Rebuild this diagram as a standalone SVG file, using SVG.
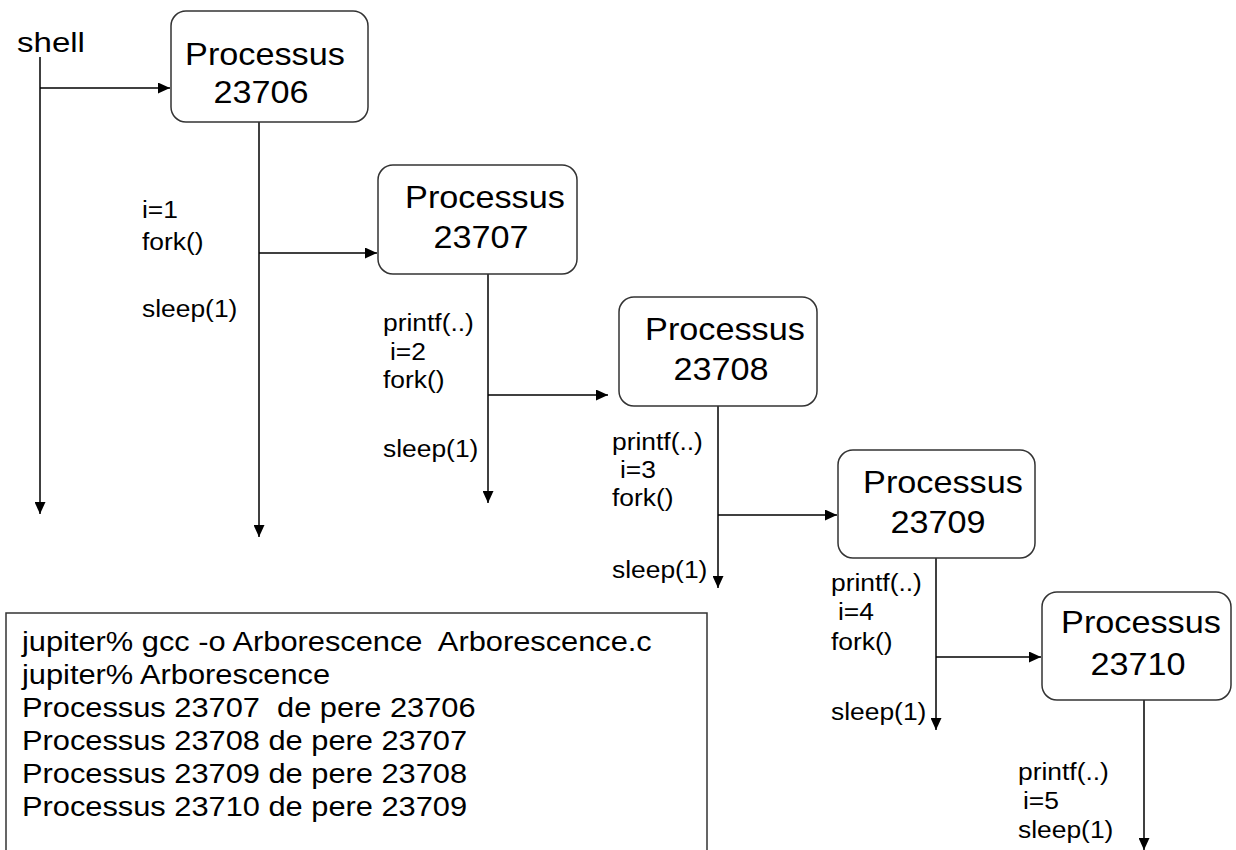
<svg xmlns="http://www.w3.org/2000/svg" width="1236" height="850" viewBox="0 0 1236 850">
<style>
  text { font-family: "Liberation Sans", Arial, sans-serif; fill: #000; }
  .bt { font-size: 32px; text-anchor: middle; }
  .lb { font-size: 24px; }
  .tt { font-size: 28px; }
  .sh { font-size: 28px; }
  .box { fill: #fff; stroke: #333; stroke-width: 1.5; }
  .ln { stroke: #000; stroke-width: 1.5; fill: none; }
</style>
<defs>
  <marker id="ah" markerUnits="userSpaceOnUse" markerWidth="13" markerHeight="11" refX="12" refY="5.5" orient="auto">
    <path d="M0,0 L12,5.5 L0,11 z" fill="#000"/>
  </marker>
</defs>
<rect x="0" y="0" width="1236" height="850" fill="#fff"/>

<g id="connectors">
  <line class="ln" x1="40" y1="57" x2="40" y2="514" marker-end="url(#ah)"/>
  <line class="ln" x1="40" y1="88" x2="170" y2="88" marker-end="url(#ah)"/>
  <line class="ln" x1="259" y1="122" x2="259" y2="537" marker-end="url(#ah)"/>
  <line class="ln" x1="259" y1="253" x2="377" y2="253" marker-end="url(#ah)"/>
  <line class="ln" x1="488" y1="274" x2="488" y2="503" marker-end="url(#ah)"/>
  <line class="ln" x1="488" y1="395" x2="608" y2="395" marker-end="url(#ah)"/>
  <line class="ln" x1="718" y1="406" x2="718" y2="588" marker-end="url(#ah)"/>
  <line class="ln" x1="718" y1="515" x2="837" y2="515" marker-end="url(#ah)"/>
  <line class="ln" x1="936" y1="558" x2="936" y2="730" marker-end="url(#ah)"/>
  <line class="ln" x1="936" y1="657" x2="1041" y2="657" marker-end="url(#ah)"/>
  <line class="ln" x1="1144" y1="700" x2="1144" y2="850" marker-end="url(#ah)"/>
</g>

<g id="shell">
  <text class="sh" transform="translate(17,52) scale(1.18,1)">shell</text>
</g>

<g id="p23706">
  <rect class="box" x="171" y="11" width="197" height="111" rx="15" ry="15"/>
  <text class="bt" transform="translate(265,65) scale(1.07,1)">Processus</text>
  <text class="bt" transform="translate(261,103) scale(1.07,1)">23706</text>
</g>
<g id="p23707">
  <rect class="box" x="378" y="165" width="199" height="109" rx="15" ry="15"/>
  <text class="bt" transform="translate(485,208) scale(1.07,1)">Processus</text>
  <text class="bt" transform="translate(481,248) scale(1.07,1)">23707</text>
</g>
<g id="p23708">
  <rect class="box" x="619" y="297" width="198" height="109" rx="15" ry="15"/>
  <text class="bt" transform="translate(725,340) scale(1.07,1)">Processus</text>
  <text class="bt" transform="translate(721,380) scale(1.07,1)">23708</text>
</g>
<g id="p23709">
  <rect class="box" x="838" y="450" width="197" height="108" rx="15" ry="15"/>
  <text class="bt" transform="translate(943,493) scale(1.07,1)">Processus</text>
  <text class="bt" transform="translate(938,533) scale(1.07,1)">23709</text>
</g>
<g id="p23710">
  <rect class="box" x="1042" y="592" width="189" height="108" rx="15" ry="15"/>
  <text class="bt" transform="translate(1141,633) scale(1.07,1)">Processus</text>
  <text class="bt" transform="translate(1138,675) scale(1.07,1)">23710</text>
</g>

<g id="labels23706">
  <text class="lb" transform="translate(142,218) scale(1.1,1)">i=1</text>
  <text class="lb" transform="translate(142,250) scale(1.1,1)">fork()</text>
  <text class="lb" transform="translate(142,317) scale(1.1,1)">sleep(1)</text>
</g>
<g id="labels23707">
  <text class="lb" transform="translate(383,331) scale(1.1,1)">printf(..)</text>
  <text class="lb" transform="translate(390,360) scale(1.1,1)">i=2</text>
  <text class="lb" transform="translate(383,388) scale(1.1,1)">fork()</text>
  <text class="lb" transform="translate(383,457) scale(1.1,1)">sleep(1)</text>
</g>
<g id="labels23708">
  <text class="lb" transform="translate(612,450) scale(1.1,1)">printf(..)</text>
  <text class="lb" transform="translate(620,478) scale(1.1,1)">i=3</text>
  <text class="lb" transform="translate(612,506) scale(1.1,1)">fork()</text>
  <text class="lb" transform="translate(612,578) scale(1.1,1)">sleep(1)</text>
</g>
<g id="labels23709">
  <text class="lb" transform="translate(831,591) scale(1.1,1)">printf(..)</text>
  <text class="lb" transform="translate(838,620) scale(1.1,1)">i=4</text>
  <text class="lb" transform="translate(831,650) scale(1.1,1)">fork()</text>
  <text class="lb" transform="translate(831,720) scale(1.1,1)">sleep(1)</text>
</g>
<g id="labels23710">
  <text class="lb" transform="translate(1018,780) scale(1.1,1)">printf(..)</text>
  <text class="lb" transform="translate(1023,809) scale(1.1,1)">i=5</text>
  <text class="lb" transform="translate(1018,838) scale(1.1,1)">sleep(1)</text>
</g>

<g id="terminal">
  <path d="M6,851 V613 H707 V851" fill="none" stroke="#333" stroke-width="1.5"/>
  <text class="tt" xml:space="preserve" transform="translate(22,651) scale(1.1,1)">jupiter% gcc -o Arborescence  Arborescence.c</text>
  <text class="tt" transform="translate(22,684) scale(1.1,1)">jupiter% Arborescence</text>
  <text class="tt" xml:space="preserve" transform="translate(22,717) scale(1.1,1)">Processus 23707  de pere 23706</text>
  <text class="tt" transform="translate(22,750) scale(1.1,1)">Processus 23708 de pere 23707</text>
  <text class="tt" transform="translate(22,783) scale(1.1,1)">Processus 23709 de pere 23708</text>
  <text class="tt" transform="translate(22,816) scale(1.1,1)">Processus 23710 de pere 23709</text>
</g>
</svg>
